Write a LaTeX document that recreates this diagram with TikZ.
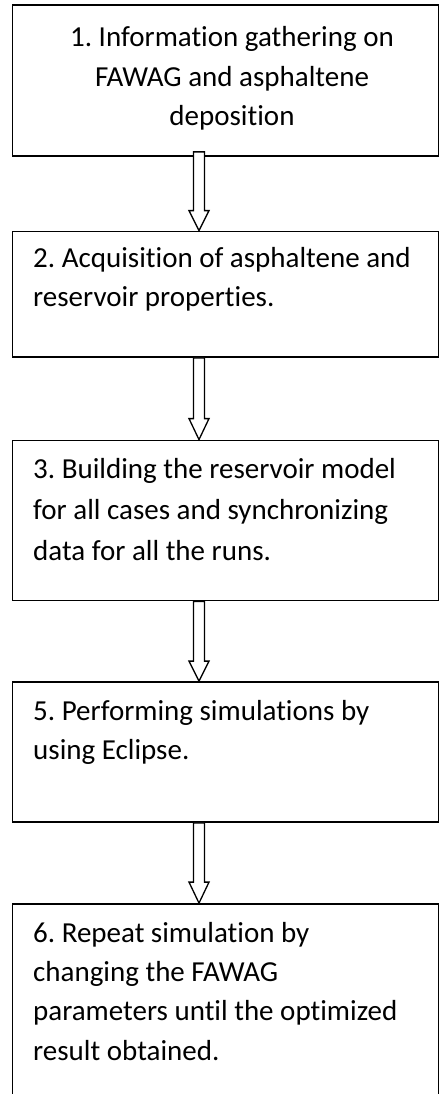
\documentclass[tikz,border=0pt]{standalone}
\usepackage{fontspec}
\setmainfont{Carlito}[Ligatures={NoCommon}]
\frenchspacing
\usetikzlibrary{calc}
\begin{document}
\begin{tikzpicture}[x=1pt,y=-1pt,
  box/.style={draw=black,line width=1.8pt,fill=white,inner sep=0pt,minimum width=426pt},
  txt/.style={inner sep=0pt,font=\fontsize{29}{40}\selectfont\frenchspacing,text=black},
  arrowst/.style={draw=black,line width=1.3pt,fill=white,line join=miter}]
\useasboundingbox (0,0) rectangle (440,1094);
\clip (0,0) rectangle (440,1094);
\fill[white] (0,0) rectangle (440,1094);
\coordinate (ax) at (199,0);
% boxes
\node[box,minimum height=151pt] (b1) at (225.5,80.5) {};
\node[box,minimum height=125.5pt] (b2) at (225.5,294.25) {};
\node[box,minimum height=160pt] (b3) at (225.5,520.5) {};
\node[box,minimum height=140pt] (b5) at (225.5,752) {};
\node[box,minimum height=220pt] (b6) at (225.5,1014) {};
% texts
\node[txt,anchor=base] (t1a) at (232,47) {1. Information gathering on};
\node[txt,anchor=base] (t1b) at (232,87) {FAWAG and asphaltene};
\node[txt,anchor=base] (t1c) at (232,126) {deposition};
\node[txt,anchor=base west] (t2a) at (33,267) {2. Acquisition of asphaltene and};
\node[txt,anchor=base west] (t2b) at (33,306) {reservoir properties.};
\node[txt,anchor=base west] (t3a) at (33,478) {3. Building the reservoir model};
\node[txt,anchor=base west] (t3b) at (33,519) {for all cases and synchronizing};
\node[txt,anchor=base west] (t3c) at (33,560) {data for all the runs.};
\node[txt,anchor=base west] (t5a) at (33,720) {5. Performing simulations by};
\node[txt,anchor=base west] (t5b) at (33,759) {using Eclipse.};
\node[txt,anchor=base west] (t6a) at (33,942) {6. Repeat simulation by};
\node[txt,anchor=base west] (t6b) at (33,981) {changing the FAWAG};
\node[txt,anchor=base west] (t6c) at (33,1020) {parameters until the optimized};
\node[txt,anchor=base west] (t6d) at (33,1060) {result obtained.};
% block arrows
\draw[arrowst] let \p1=(b1.south -| ax), \p2=(b2.north -| ax) in
  (\x1-5.5pt,\y1+5pt) -- (\x1-5.5pt,\y2+20pt) -- (\x1-10pt,\y2+20pt) -- (\p2)
  -- (\x1+10pt,\y2+20pt) -- (\x1+5.5pt,\y2+20pt) -- (\x1+5.5pt,\y1+5pt) -- cycle;
\draw[arrowst] let \p1=(b2.south -| ax), \p2=(b3.north -| ax) in
  (\x1-5.5pt,\y1) -- (\x1-5.5pt,\y2+21pt) -- (\x1-10pt,\y2+21pt) -- (\p2)
  -- (\x1+10pt,\y2+21pt) -- (\x1+5.5pt,\y2+21pt) -- (\x1+5.5pt,\y1) -- cycle;
\draw[arrowst] let \p1=(b3.south -| ax), \p2=(b5.north -| ax) in
  (\x1-5.5pt,\y1) -- (\x1-5.5pt,\y2+20pt) -- (\x1-10pt,\y2+20pt) -- (\p2)
  -- (\x1+10pt,\y2+20pt) -- (\x1+5.5pt,\y2+20pt) -- (\x1+5.5pt,\y1) -- cycle;
\draw[arrowst] let \p1=(b5.south -| ax), \p2=(b6.north -| ax) in
  (\x1-5.5pt,\y1) -- (\x1-5.5pt,\y2+21pt) -- (\x1-10pt,\y2+21pt) -- (\p2)
  -- (\x1+10pt,\y2+21pt) -- (\x1+5.5pt,\y2+21pt) -- (\x1+5.5pt,\y1) -- cycle;
\end{tikzpicture}
\end{document}
